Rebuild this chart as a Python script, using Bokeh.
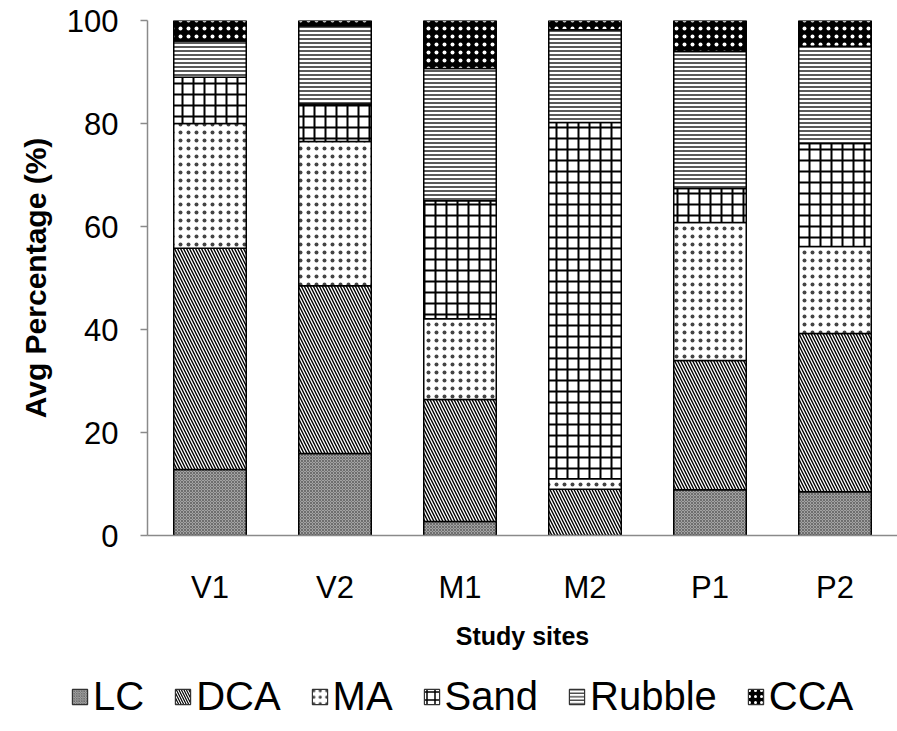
from bokeh.plotting import figure
from bokeh.models import ColumnDataSource, FixedTicker, Range1d, Legend
from bokeh.layouts import column
from bokeh.embed import file_html
from bokeh.resources import INLINE

categories = ["V1", "V2", "M1", "M2", "P1", "P2"]
LC = [12.8, 15.9, 2.7, 0.0, 8.9, 8.5]
DCA = [43.0, 32.6, 23.7, 9.0, 25.1, 30.7]
MA = [24.2, 28.0, 15.7, 2.0, 26.8, 16.9]
Sand = [9.0, 7.3, 22.9, 69.2, 6.6, 20.0]
Rubble = [7.0, 15.2, 25.7, 18.0, 26.6, 18.9]
CCA = [4.0, 1.0, 9.3, 1.8, 6.0, 5.0]
series = ["LC", "DCA", "MA", "Sand", "Rubble", "CCA"]
y_ticks = [0, 20, 40, 60, 80, 100]

source = ColumnDataSource(dict(x=categories, LC=LC, DCA=DCA, MA=MA, Sand=Sand,
                               Rubble=Rubble, CCA=CCA))

p = figure(x_range=categories, y_range=Range1d(0, 100),
           width=897, height=665,
           output_backend="svg", toolbar_location=None,
           min_border_left=147, min_border_right=0, min_border_top=20,
           min_border_bottom=130)
p.frame_align = False

fills = ["#a3a3a3", "white", "white", "white", "white", "black"]
hatches = ["diagonal_cross", "left_diagonal_line", "dot", "cross", "horizontal_line", "dot"]
hcolors = ["#4a4a4a", "black", "#444444", "black", "black", "white"]
hscales = [3.0, 6.0, 8.0, 11.0, 4.0, 8.0]
hweights = [0.6, 1.4, 2.0, 2.0, 1.3, 2.5]
legend_hscales = [2.5, 5.0, 6.5, 8.0, 3.5, 6.0]
legend_hweights = [0.5, 1.2, 1.8, 1.5, 1.0, 2.2]

p.vbar_stack(series, x="x", width=0.58, source=source,
             fill_color=fills, line_color="black", line_width=1.5,
             hatch_pattern=hatches, hatch_color=hcolors,
             hatch_scale=hscales, hatch_weight=hweights)

p.xgrid.visible = False
p.ygrid.visible = False
p.outline_line_color = None

p.yaxis.ticker = FixedTicker(ticks=y_ticks)
p.yaxis.minor_tick_line_color = None
p.yaxis.major_tick_out = 7
p.yaxis.major_tick_in = 0
p.yaxis.axis_line_color = "#8a8a8a"
p.yaxis.major_tick_line_color = "#8a8a8a"
p.yaxis.axis_line_width = 1.5
p.yaxis.major_tick_line_width = 1.5
p.yaxis.major_label_text_font = "Liberation Sans"
p.yaxis.major_label_text_font_size = "31px"
p.yaxis.major_label_text_color = "black"
p.yaxis.major_label_standoff = 22
p.yaxis.axis_label = "Avg Percentage (%)"
p.yaxis.axis_label_text_font = "Liberation Sans"
p.yaxis.axis_label_text_font_style = "bold"
p.yaxis.axis_label_text_font_size = "30px"
p.yaxis.axis_label_text_color = "black"
p.yaxis.axis_label_standoff = 12

p.xaxis.axis_line_color = "#8a8a8a"
p.xaxis.axis_line_width = 1.5
p.xaxis.major_tick_line_color = None
p.xaxis.minor_tick_line_color = None
p.xaxis.major_label_text_font = "Liberation Sans"
p.xaxis.major_label_text_font_size = "31px"
p.xaxis.major_label_text_color = "black"
p.xaxis.major_label_standoff = 28
p.xaxis.axis_label = "Study sites"
p.xaxis.axis_label_text_font = "Liberation Sans"
p.xaxis.axis_label_text_font_style = "bold"
p.xaxis.axis_label_text_font_size = "25px"
p.xaxis.axis_label_text_color = "black"
p.xaxis.axis_label_standoff = 14

# legend strip below the chart (same stacked bars, kept out of its visible range)
pl = figure(width=897, height=66, x_range=categories, y_range=Range1d(1000, 1001),
            output_backend="svg", toolbar_location=None,
            x_axis_location=None, y_axis_location=None,
            min_border=0, outline_line_color=None)
pl.frame_align = False
pl.xgrid.visible = False
pl.ygrid.visible = False
legend_renderers = pl.vbar_stack(series, x="x", width=0.58, source=source,
                                 fill_color=fills, line_color="#333333", line_width=1.2,
                                 hatch_pattern=hatches, hatch_color=hcolors,
                                 hatch_scale=legend_hscales,
                                 hatch_weight=legend_hweights)
legend = Legend(items=[(s, [r]) for s, r in zip(series, legend_renderers)],
                orientation="horizontal", location=(70, 12),
                label_text_font="Liberation Sans", label_text_font_size="40px",
                label_text_color="black",
                glyph_width=19, glyph_height=19, spacing=29, label_standoff=4,
                border_line_color=None, background_fill_alpha=0, margin=0,
                padding=0)
pl.add_layout(legend, "center")

layout = column(p, pl, spacing=0)
open("out.html", "w").write(file_html(layout, INLINE))
